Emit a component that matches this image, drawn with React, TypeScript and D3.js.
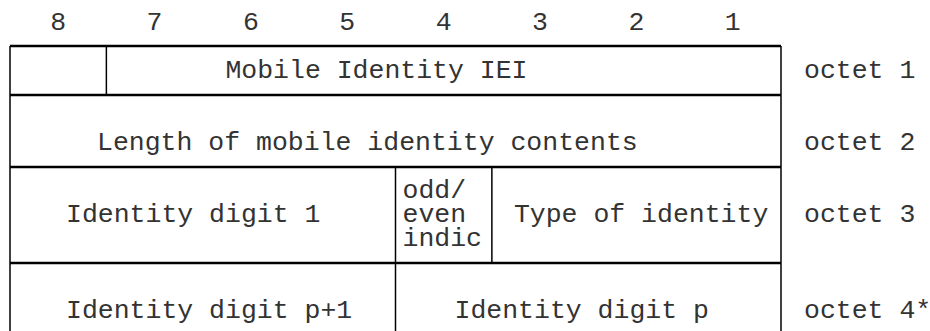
import React from "react";
import * as d3 from "d3";

// bit numbers across the top
const bits = [8, 7, 6, 5, 4, 3, 2, 1];

// octet rows
const octets = ["octet 1", "octet 2", "octet 3", "octet 4*"];
const rowHeights = [49, 72, 96, 72];

// fields: octet index, high bit, low bit, text lines
const fieldOctet = [0, 0, 1, 2, 2, 2, 3, 3];
const fieldHigh = [8, 7, 8, 8, 4, 3, 8, 4];
const fieldLow = [8, 1, 1, 5, 4, 1, 5, 1];
const fieldText = [
    [],
    ["Mobile Identity IEI"],
    ["Length of mobile identity contents"],
    ["Identity digit 1"],
    ["odd/", "even", "indic"],
    ["Type of identity"],
    ["Identity digit p+1"],
    ["Identity digit p"],
];
// text indent inside each field (px from left edge of field)
const fieldIndent = [0, 119, 87, 56, 7, 22, 56, 59];

export default function App() {
    const ref = React.useRef<SVGSVGElement>(null);
    React.useEffect(() => {
        const width = 930;
        const height = 331;
        const left = 10;
        const right = 781;
        const top = 46;
        const fontSize = 26.5;
        const font = "'Courier New', 'Liberation Mono', monospace";
        const ink = "#333";

        const svg = d3.select(ref.current!);
        svg.selectAll("*").remove();
        svg.attr("width", width)
            .attr("height", height)
            .attr("viewBox", [0, 0, width, height].join(" "));

        // bit columns
        const x = d3.scaleBand<number>().domain(bits).range([left, right]);

        // row boundaries
        const edges = [top];
        rowHeights.forEach((h, i) => edges.push(edges[i] + h));
        const y = (i: number) => edges[i];

        const fieldX0 = (i: number) => x(fieldHigh[i])!;

        // bit labels
        svg.append("g")
            .selectAll("text")
            .data(bits)
            .join("text")
            .attr("x", (d) => x(d)! + x.bandwidth() / 2)
            .attr("y", 30)
            .attr("text-anchor", "middle")
            .attr("font-family", font)
            .attr("font-size", fontSize)
            .attr("fill", ink)
            .text((d) => d);

        // horizontal lines
        svg.append("g")
            .selectAll("line")
            .data(edges)
            .join("line")
            .attr("x1", left)
            .attr("x2", right)
            .attr("y1", (d) => d)
            .attr("y2", (d) => d)
            .attr("stroke", "#000")
            .attr("stroke-width", 2.5);

        // vertical lines: left edge of every field + right edge of the table
        const verts: { x: number; y1: number; y2: number }[] = [];
        fieldOctet.forEach((o, i) => {
            verts.push({ x: fieldX0(i), y1: y(o), y2: y(o + 1) });
        });
        octets.forEach((_, o) => verts.push({ x: right, y1: y(o), y2: y(o + 1) }));

        svg.append("g")
            .selectAll("line")
            .data(verts)
            .join("line")
            .attr("x1", (d) => d.x)
            .attr("x2", (d) => d.x)
            .attr("y1", (d) => d.y1)
            .attr("y2", (d) => d.y2)
            .attr("stroke", "#000")
            .attr("stroke-width", 1.5);

        // field text
        const g = svg.append("g")
            .attr("font-family", font)
            .attr("font-size", fontSize)
            .attr("fill", ink);
        const lineH = 24;
        fieldText.forEach((lines, i) => {
            if (!lines.length) return;
            const o = fieldOctet[i];
            const mid = (y(o) + y(o + 1)) / 2;
            // taller rows sit their text a bit below the middle
            const shift = o === 1 || o === 3 ? 12 : 0;
            const base = mid + 7 + shift - ((lines.length - 1) * lineH) / 2;
            const t = g.append("text").attr("y", base);
            lines.forEach((s, k) => {
                t.append("tspan")
                    .attr("x", fieldX0(i) + fieldIndent[i])
                    .attr("dy", k === 0 ? 0 : lineH)
                    .text(s);
            });
        });

        // octet labels
        g.selectAll("text.octet")
            .data(octets)
            .join("text")
            .attr("class", "octet")
            .attr("x", right + 23)
            .attr("y", (_, o) => (y(o) + y(o + 1)) / 2 + 7 + (o === 1 || o === 3 ? 12 : 0))
            .text((d) => d);
    }, []);

    return (
        <svg
            ref={ref}
            style={{ position: "absolute", left: 0, top: 0, background: "#fff" }}
        ></svg>
    );
}
